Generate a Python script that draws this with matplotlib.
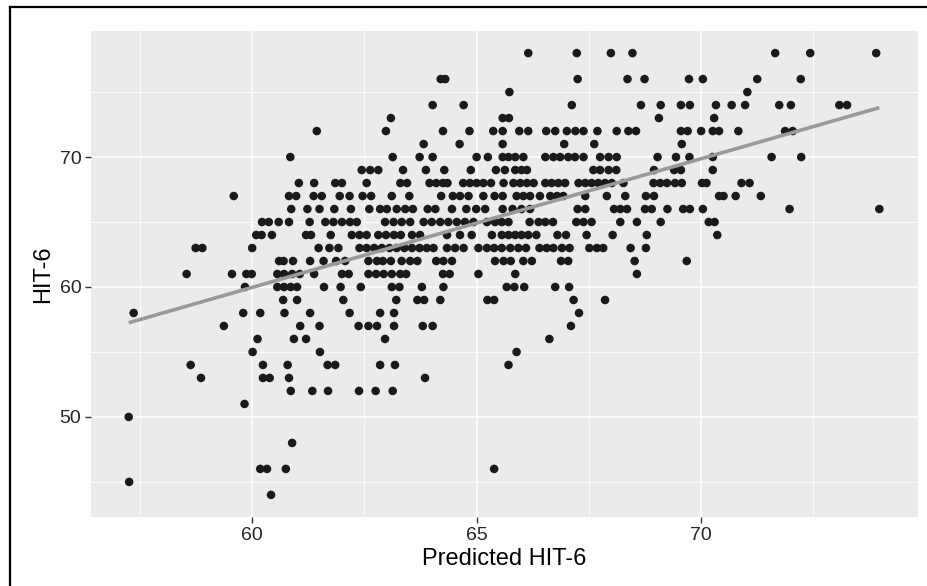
import numpy as np
import matplotlib
matplotlib.use("Agg")
import matplotlib.pyplot as plt
from matplotlib.lines import Line2D
from matplotlib.ticker import MultipleLocator

plt.rcParams["font.family"] = ["Liberation Sans", "DejaVu Sans"]

rows = {
    78: [66.15, 67.23, 67.99, 68.47, 71.65, 72.43, 73.9],
    76: [64.2, 64.3, 67.25, 68.36, 68.74, 69.73, 70.04, 71.25, 72.22],
    75: [65.73, 71.03],
    74: [64.02, 64.71, 67.12, 68.66, 69.1, 69.55, 69.75, 70.33, 70.68, 70.98,
         71.74, 72.0, 73.08, 73.25],
    73: [63.09, 65.58, 65.72, 69.06, 70.29],
    72: [61.44, 62.98, 64.25, 64.84, 65.37, 65.58, 65.95, 66.15, 66.55, 66.75,
         67.01, 67.2, 67.38, 67.69, 68.12, 68.38, 68.55, 69.55, 69.7, 70.0,
         70.26, 70.4, 70.83, 71.87, 72.04],
    71: [63.82, 64.62, 65.58, 66.95, 67.62, 69.57],
    70: [60.85, 63.13, 63.73, 64.02, 65.0, 65.25, 65.58, 65.71, 65.86, 66.04,
         66.53, 66.71, 66.86, 67.04, 67.19, 67.38, 67.75, 67.94, 68.12, 69.03,
         69.44, 69.74, 70.26, 71.57, 72.23],
    69: [62.44, 62.63, 62.81, 63.36, 63.87, 64.28, 64.87, 65.43, 65.63, 65.86,
         66.0, 66.12, 67.6, 67.75, 67.94, 68.11, 68.95, 69.4, 69.55, 70.26],
    68: [61.04, 61.38, 61.85, 62.0, 62.55, 63.3, 63.45, 63.95, 64.1, 64.25,
         64.35, 64.7, 64.85, 65.0, 65.15, 65.32, 65.6, 65.82, 65.97, 66.12,
         66.27, 66.53, 66.67, 66.82, 66.97, 67.27, 67.42, 67.56, 67.71, 67.86,
         68.01, 68.27, 68.94, 69.09, 69.24, 69.42, 69.57, 70.02, 70.12, 70.9,
         71.08],
    67: [59.59, 60.82, 60.98, 61.37, 61.55, 61.95, 62.17, 62.46, 62.65, 63.11,
         63.5, 64.21, 64.47, 64.63, 64.82, 65.15, 65.4, 65.58, 65.89, 66.04,
         66.19, 66.41, 66.64, 66.79, 66.93, 67.42, 67.9, 68.31, 68.77, 68.95,
         70.4, 70.5, 70.77, 71.33],
    66: [60.87, 61.23, 61.5, 61.83, 62.2, 62.61, 62.85, 63.0, 63.22, 63.41,
         63.58, 63.91, 64.08, 64.45, 64.77, 64.99, 65.19, 65.58, 65.8, 66.0,
         66.19, 67.25, 67.42, 68.06, 68.2, 68.35, 68.75, 68.9, 69.25, 69.6,
         69.75, 70.04, 71.97, 73.97],
    65: [60.22, 60.37, 60.59, 60.82, 61.28, 61.63, 61.81, 62.0, 62.18, 62.33,
         62.96, 63.15, 63.33, 63.52, 63.82, 64.0, 64.19, 64.37, 64.56, 64.74,
         64.93, 65.23, 65.41, 65.56, 65.71, 66.18, 66.38, 66.53, 66.7, 67.22,
         67.38, 67.56, 68.2, 68.57, 69.1, 70.17, 70.3],
    64: [60.09, 60.21, 60.44, 61.2, 61.31, 61.75, 62.22, 62.39, 62.55, 62.81,
         62.98, 63.16, 63.31, 63.56, 63.74, 64.34, 64.63, 64.89, 65.34, 65.56,
         65.71, 65.86, 66.0, 66.15, 66.33, 66.8, 66.99, 67.45, 68.03, 68.79,
         70.36],
    63: [58.74, 58.89, 60.0, 61.48, 61.72, 61.92, 62.39, 62.55, 62.72, 62.89,
         63.06, 63.22, 63.39, 63.56, 63.73, 63.89, 64.04, 64.34, 64.52, 64.71,
         65.04, 65.23, 65.39, 65.56, 65.75, 65.93, 66.1, 66.4, 66.56, 66.71,
         66.9, 67.07, 67.51, 67.68, 67.82, 68.43, 68.77],
    62: [60.6, 60.7, 60.91, 61.29, 61.59, 61.87, 62.07, 62.59, 62.78, 62.91,
         63.09, 63.33, 63.52, 63.68, 64.1, 64.26, 64.45, 65.41, 65.6, 65.76,
         66.04, 66.23, 66.88, 67.04, 68.52, 69.68],
    61: [58.54, 59.55, 59.87, 59.99, 60.56, 60.71, 60.89, 61.06, 61.38, 62.0,
         62.15, 62.59, 62.76, 62.93, 63.11, 63.3, 63.43, 64.25, 64.4, 65.04,
         65.86, 68.57],
    60: [59.84, 60.56, 60.71, 60.86, 61.0, 61.6, 61.97, 62.42, 63.11, 63.28,
         63.78, 64.26, 65.67, 65.84, 66.06, 66.75, 67.06],
    59: [60.69, 61.0, 62.03, 63.21, 63.68, 63.83, 64.19, 65.24, 65.39, 67.16,
         67.86],
    58: [57.36, 59.8, 60.18, 60.72, 61.29, 62.17, 62.85, 63.16, 67.28],
    57: [59.37, 61.07, 61.5, 62.37, 62.59, 62.78, 63.16, 63.8, 64.02, 67.1],
    56: [60.12, 60.93, 61.2, 62.96, 66.62],
    55: [60.01, 61.51, 65.89],
    54: [58.63, 60.24, 60.79, 61.68, 61.85, 62.85, 63.18, 65.71],
    53: [58.86, 60.24, 60.39, 60.82, 63.85],
    52: [60.86, 61.34, 61.69, 62.38, 62.75, 63.13],
    51: [59.83],
    50: [57.25],
    48: [60.89],
    46: [60.18, 60.33, 60.75, 65.39],
    45: [57.26],
    44: [60.42],
}

# regression line as drawn in the reference (geom_smooth, method = "lm")
fit_slope = 0.990
fit_intercept = 0.57

predicted = np.array([x for v, xs in rows.items() for x in xs])
hit6 = np.array([v for v, xs in rows.items() for x in xs], dtype=float)

fig = plt.figure(figsize=(9.27, 5.86), dpi=100)
ax = fig.add_axes([91 / 927, 69 / 586, 826.5 / 927, 486 / 586])
ax.set_facecolor("#EBEBEB")

ax.scatter(predicted, hit6, s=38, color="#1a1a1a", edgecolors="none", zorder=3)

xs = np.array([predicted.min(), predicted.max()])
ax.plot(xs, fit_slope * xs + fit_intercept, color="#9a9a9a", lw=2.6, zorder=4,
        solid_capstyle="butt")

ax.set_xlim(56.41, 74.82)
ax.set_ylim(42.3, 79.7)
ax.xaxis.set_major_locator(MultipleLocator(5))
ax.xaxis.set_minor_locator(MultipleLocator(2.5))
ax.yaxis.set_major_locator(MultipleLocator(10))
ax.yaxis.set_minor_locator(MultipleLocator(5))
ax.grid(which="major", color="white", lw=1.2, zorder=0)
ax.grid(which="minor", color="white", lw=0.6, zorder=0)
ax.set_axisbelow(True)
for s in ax.spines.values():
    s.set_visible(False)
ax.tick_params(which="major", length=4, width=1, color="#333333",
               labelsize=14, labelcolor="#262626", pad=3)
ax.tick_params(which="minor", length=0)

ax.set_xlabel("Predicted HIT-6", fontsize=17, labelpad=3)
ax.set_ylabel("HIT-6", fontsize=17, labelpad=4)

# outer frame (left and top edges)
fig.add_artist(Line2D([10 / 927, 10 / 927], [0, 1 - 7 / 586],
                      transform=fig.transFigure, color="black", lw=1.6))
fig.add_artist(Line2D([10 / 927, 1], [1 - 7 / 586, 1 - 7 / 586],
                      transform=fig.transFigure, color="black", lw=1.6))

fig.savefig("out.png", dpi=100)
